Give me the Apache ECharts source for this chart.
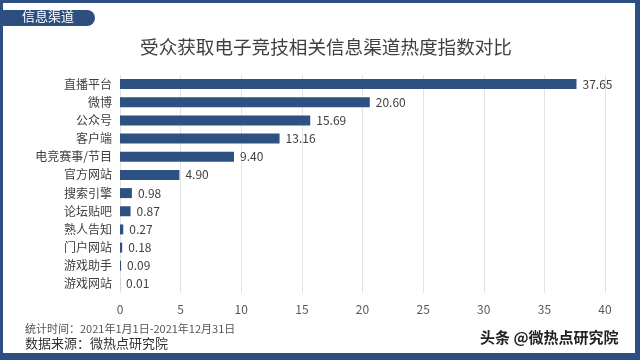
<!DOCTYPE html>
<html><head><meta charset="utf-8">
<script src="https://cdn.jsdelivr.net/npm/echarts@6/dist/echarts.min.js"></script>
<style>html,body{margin:0;padding:0;background:#fff}#c{width:640px;height:360px}</style>
</head><body><div id="c"></div>
<script>
const categories = ['直播平台','微博','公众号','客户端','电竞赛事/节目','官方网站','搜索引擎','论坛贴吧','熟人告知','门户网站','游戏助手','游戏网站'];
const values = [37.65, 20.60, 15.69, 13.16, 9.40, 4.90, 0.98, 0.87, 0.27, 0.18, 0.09, 0.01];
const xTicks = [0, 5, 10, 15, 20, 25, 30, 35, 40];
const titleText = '受众获取电子竞技相关信息渠道热度指数对比';
const tabText = '信息渠道';
const note1 = '统计时间：2021年1月1日-2021年12月31日';
const note2 = '数据来源：微热点研究院';
const mark = '头条 @微热点研究院';

const frame = '#2C4F80';
const chart = echarts.init(document.getElementById('c'), null, {renderer:'canvas'});
const font = '"Noto Sans CJK SC", "Noto Sans", sans-serif';
function txt(x, y, text, size, color, weight) {
  return {type:'text', x:x, y:y, style:{text:text, fill:color, fontSize:size, fontFamily:font, fontWeight: weight || 'normal', textVerticalAlign:'top'}};
}
chart.setOption({
  backgroundColor: '#fff',
  textStyle: {fontFamily: font},
  graphic: [
    {type:'rect', x:0, y:0, shape:{width:640, height:3}, style:{fill:frame}},
    {type:'rect', x:0, y:0, shape:{width:3, height:360}, style:{fill:frame}},
    {type:'rect', x:635, y:0, shape:{width:5, height:360}, style:{fill:frame}},
    {type:'rect', x:0, y:353, shape:{width:640, height:7}, style:{fill:frame}},
    {type:'rect', x:3, y:10, shape:{width:92, height:16, r:[0,8,8,0]}, style:{fill:frame}},
    txt(22, 10, tabText, 13, '#fff'),
    txt(25, 323, note1, 11, '#555'),
    txt(25, 337, note2, 13, '#333'),
    txt(480, 330, mark, 15, '#222', 'bold')
  ],
  title: {
    text: titleText, left: 321, top: 33, textAlign: 'center',
    textStyle: {fontSize: 18.6, fontWeight: 'normal', color: '#404040', fontFamily: font}
  },
  grid: {left: 120, right: 35, top: 75, bottom: 67},
  xAxis: {
    type: 'value', min: 0, max: 40, interval: 5,
    axisLine: {show:false}, axisTick: {show:false},
    axisLabel: {color:'#595959', fontSize: 12, margin: 10, fontFamily: font,
      formatter: v => xTicks.includes(v) ? String(v) : ''},
    splitLine: {lineStyle: {color: '#e3e3e3'}}
  },
  yAxis: {
    type: 'category', data: categories, inverse: true,
    axisLine: {show:false}, axisTick: {show:false},
    axisLabel: {color:'#404040', fontSize: 12, margin: 8, fontFamily: font}
  },
  series: [{
    type: 'bar', data: values, barWidth: 10,
    itemStyle: {color: '#2D5183'},
    label: {show: true, position: 'right', distance: 6, color: '#404040', fontSize: 12,
      fontFamily: font, formatter: p => p.value.toFixed(2)}
  }]
});
</script></body></html>
